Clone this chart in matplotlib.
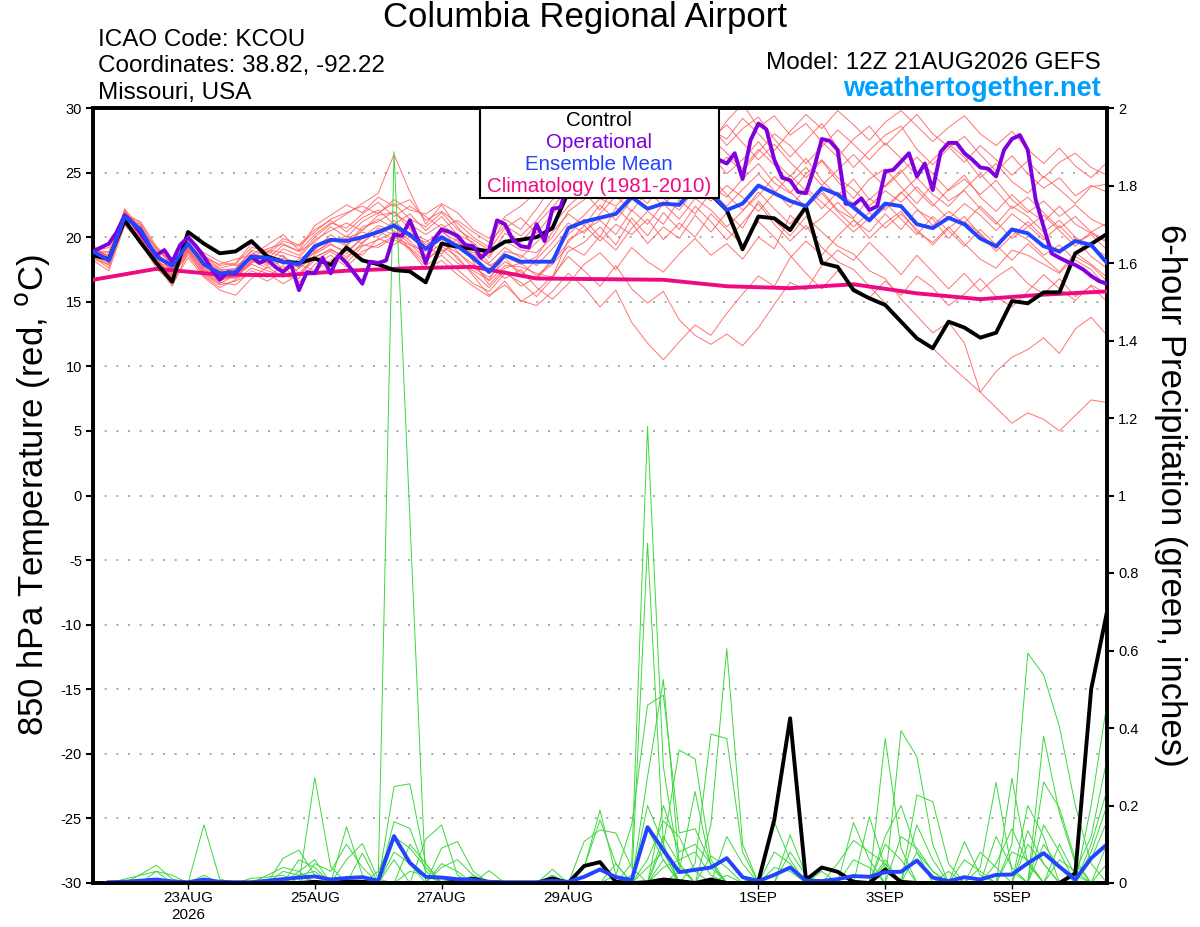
import numpy as np
import matplotlib
matplotlib.use("Agg")
import matplotlib.pyplot as plt
from matplotlib.patches import Rectangle

plt.rcParams['font.family'] = ['Liberation Sans', 'DejaVu Sans']
plt.rcParams['axes.unicode_minus'] = False

# time axis: days since 12Z 21AUG2026, 6-hourly ensemble, 3-hourly operational
tick_days = [1.5, 3.5, 5.5, 7.5, 10.5, 12.5, 14.5]
tick_labels = ['23AUG\n2026', '25AUG', '27AUG', '29AUG', '1SEP', '3SEP', '5SEP']

control_t = [
    18.6, 18.3, 21.3, 19.6, 18.0, 16.55, 20.4, 19.5, 18.75, 18.9,
    19.7, 18.5, 18.1, 18.0, 18.35, 17.85, 19.2, 18.2, 17.9, 17.45,
    17.35, 16.5, 19.5, 19.26, 19.1, 18.9, 19.65, 19.8, 20.0, 20.7,
    23.5, 23.8, 24.3, 24.0, 24.6, 25.2, 24.5, 24.8, 24.0, 23.3,
    22.1, 19.06, 21.6, 21.46, 20.55, 22.36, 18.0, 17.7, 15.9, 15.27,
    14.75, 13.46, 12.17, 11.4, 13.46, 13.0, 12.22, 12.6, 15.06, 14.88,
    15.73, 15.73, 18.75, 19.47, 20.25]

mean_t = [
    18.9, 18.2, 21.6, 20.6, 18.5, 17.8, 19.5, 17.9, 17.2, 17.3,
    18.5, 18.4, 18.1, 17.9, 19.3, 19.8, 19.7, 20.0, 20.4, 20.9,
    20.2, 19.1, 20.0, 19.3, 18.4, 17.3, 18.6, 18.1, 18.1, 18.1,
    20.7, 21.2, 21.5, 21.8, 23.1, 22.2, 22.6, 22.5, 23.9, 23.4,
    22.1, 22.6, 24.0, 23.4, 22.8, 22.4, 23.8, 23.3, 22.3, 21.3,
    22.6, 22.4, 21.0, 20.7, 21.5, 21.0, 19.9, 19.3, 20.6, 20.3,
    19.3, 18.9, 19.7, 19.4, 18.0]

oper_t = [
    18.9, 19.2, 19.5, 20.4, 21.7, 21.1, 20.3, 19.4, 18.6, 19.0,
    18.1, 19.4, 20.0, 19.3, 18.5, 17.5, 16.7, 17.3, 17.2, 17.9,
    18.5, 18.0, 18.3, 17.7, 17.3, 17.9, 15.9, 17.3, 17.2, 18.4,
    17.2, 18.6, 18.0, 17.2, 16.4, 18.1, 18.0, 18.2, 20.2, 20.1,
    21.3, 19.8, 18.0, 19.8, 20.6, 20.4, 20.1, 19.4, 19.3, 18.4,
    19.0, 21.3, 21.0, 19.8, 19.3, 19.2, 21.0, 19.7, 22.2, 22.3,
    24.2, 25.0, 25.5, 26.0, 25.4, 26.2, 26.8, 26.0, 25.5, 26.3,
    27.0, 26.5, 25.8, 26.4, 27.0, 26.6, 25.9, 26.3, 26.5, 26.0,
    25.7, 26.5, 24.5, 27.5, 28.8, 28.35, 26.0, 24.6, 24.4, 23.5,
    23.4, 25.3, 27.6, 27.45, 26.75, 22.6, 22.5, 23.0, 22.1, 22.4,
    25.1, 25.2, 25.85, 26.5, 24.7, 25.7, 23.65, 26.6, 27.3, 27.3,
    26.5, 26.0, 25.4, 25.3, 24.7, 26.75, 27.6, 27.9, 26.75, 22.9,
    20.8, 18.75, 18.4, 18.1, 17.85, 17.5, 17.0, 16.6, 16.4]

clim_days = list(range(17))
clim_t = [16.7, 17.55, 17.1, 17.05, 17.4, 17.6, 17.7, 16.8, 16.75, 16.7,
          16.2, 16.05, 16.35, 15.65, 15.2, 15.55, 15.8]

members_t = [
    [19.2, 18.0, 21.9, 20.2, 18.9, 17.5, 19.9, 18.6, 17.8, 18.0,
     19.5, 18.8, 19.9, 19.4, 20.6, 21.3, 20.4, 21.5, 22.1, 21.0,
     21.8, 20.5, 21.6, 20.2, 19.6, 18.4, 20.3, 19.6, 21.0, 22.3,
     23.8, 24.9, 23.6, 25.7, 26.8, 25.4, 27.2, 26.0, 27.9, 28.6,
     27.1, 28.4, 29.3, 27.6, 26.2, 27.5, 28.8, 26.9, 25.4, 26.7,
     27.9, 28.6, 26.8, 25.6, 26.9, 27.8, 26.4, 25.1, 26.3, 24.9,
     23.8, 24.6, 23.2, 24.0, 23.5],
    [18.5, 17.6, 21.2, 20.8, 17.9, 16.2, 18.8, 17.0, 16.1, 16.7,
     17.6, 17.2, 16.4, 17.1, 18.2, 18.9, 18.0, 19.3, 19.8, 20.4,
     19.1, 17.8, 18.6, 17.5, 16.4, 15.8, 17.2, 16.5, 15.4, 16.8,
     18.9, 19.6, 20.8, 19.4, 21.5, 20.1, 21.9, 20.6, 22.4, 21.2,
     19.8, 21.1, 22.6, 21.0, 19.7, 20.9, 19.2, 18.1, 17.5, 16.2,
     14.9, 13.6, 12.1, 11.4, 10.2, 9.1, 8.0, 6.8, 5.6, 6.4,
     5.9, 5.0, 6.2, 7.4, 7.2],
    [18.8, 18.4, 21.5, 21.0, 18.2, 17.1, 19.2, 17.5, 16.8, 17.0,
     18.0, 18.7, 17.5, 18.3, 19.0, 20.2, 19.4, 20.8, 21.2, 22.0,
     20.6, 19.4, 20.1, 18.9, 17.6, 16.9, 18.1, 17.3, 16.7, 18.4,
     20.2, 21.4, 20.0, 22.3, 21.1, 19.5, 20.8, 19.9, 21.7, 20.4,
     21.9, 20.7, 22.8, 21.3, 20.1, 21.6, 20.4, 19.3, 18.7, 17.4,
     16.8, 15.2, 13.9, 12.6, 13.4, 11.8, 8.0, 9.6, 10.7, 11.3,
     12.2, 11.0, 12.9, 13.8, 12.4],
    [19.0, 18.6, 22.0, 20.4, 18.7, 17.3, 19.6, 18.2, 17.4, 17.6,
     18.9, 17.9, 18.6, 17.2, 18.4, 19.1, 18.3, 19.6, 20.5, 19.8,
     19.2, 18.1, 19.3, 18.5, 17.0, 15.5, 16.3, 15.1, 14.7, 15.8,
     17.2, 16.1, 14.6, 15.9, 13.4, 11.8, 10.5, 11.9, 13.2, 12.4,
     14.1, 15.6, 17.0, 16.2, 18.4, 19.7, 18.6, 20.1, 21.3, 20.4,
     21.8, 20.6, 22.1, 21.4, 19.9, 21.2, 20.3, 19.1, 20.5, 19.8,
     18.6, 19.4, 18.2, 17.5, 16.1],
    [18.3, 17.9, 21.3, 19.9, 18.0, 16.8, 18.9, 17.3, 16.5, 16.3,
     17.4, 16.9, 17.8, 16.5, 17.9, 18.6, 17.7, 18.9, 19.4, 20.1,
     19.0, 17.5, 18.2, 17.1, 16.2, 15.4, 16.6, 15.0, 15.8, 17.0,
     18.5, 17.4, 16.2, 17.8, 16.0, 14.9, 15.8, 13.6, 12.4, 11.7,
     12.5, 11.6, 13.0, 14.8, 16.5, 15.9, 17.8, 19.0, 18.2, 19.6,
     18.4, 17.1, 18.6, 17.3, 16.0, 17.2, 15.8, 16.9, 17.7, 16.4,
     15.6, 16.8, 15.4, 16.2, 15.0],
    [18.7, 18.9, 21.7, 21.2, 19.3, 18.0, 19.3, 18.4, 17.9, 18.3,
     18.6, 19.4, 20.2, 19.0, 20.9, 21.7, 22.5, 21.9, 23.1, 22.4,
     22.9, 21.3, 22.0, 21.1, 20.0, 19.2, 21.4, 20.6, 22.2, 24.0,
     25.6, 26.4, 27.8, 26.5, 28.4, 29.6, 28.2, 30.4, 29.1, 27.6,
     28.7, 27.3, 26.0, 27.2, 25.8, 24.6, 25.9, 24.3, 23.0, 24.5,
     25.3, 23.9, 22.6, 24.1, 22.8, 23.6, 22.2, 21.0, 22.4, 21.6,
     20.4, 21.3, 20.0, 19.2, 18.5],
    [19.4, 18.3, 22.2, 20.6, 18.4, 17.0, 19.0, 17.7, 16.9, 17.4,
     18.3, 18.0, 19.1, 18.6, 20.0, 21.0, 21.8, 22.6, 23.4, 26.4,
     23.5, 21.0, 22.5, 20.8, 19.4, 18.0, 19.2, 18.4, 19.6, 20.9,
     22.4, 23.5, 22.1, 24.0, 25.3, 23.8, 24.9, 26.1, 25.0, 26.4,
     24.9, 26.0, 27.4, 25.9, 24.7, 26.1, 24.4, 23.2, 24.5, 22.9,
     24.0, 25.2, 23.6, 22.4, 23.7, 24.8, 23.1, 22.0, 23.3, 22.1,
     21.2, 22.4, 21.0, 20.3, 19.6],
    [18.6, 17.8, 21.0, 20.0, 18.1, 17.6, 19.7, 17.6, 16.7, 16.9,
     17.9, 17.4, 17.0, 16.8, 18.7, 19.4, 18.9, 19.9, 20.3, 20.8,
     19.7, 18.6, 19.5, 18.8, 17.9, 16.6, 17.8, 17.7, 17.2, 16.9,
     19.8, 20.5, 21.3, 20.2, 22.1, 21.0, 22.6, 21.4, 23.0, 22.1,
     20.8, 22.0, 23.5, 22.2, 21.0, 22.4, 23.6, 22.1, 21.4, 19.9,
     21.1, 22.0, 20.4, 19.6, 20.8, 19.5, 18.3, 17.6, 19.0, 18.6,
     17.9, 17.2, 18.5, 17.8, 16.6],
    [19.1, 18.5, 21.8, 20.9, 19.0, 18.2, 20.0, 18.5, 17.6, 17.9,
     19.2, 19.0, 18.8, 18.4, 19.8, 20.5, 21.1, 20.5, 21.7, 21.9,
     21.0, 20.2, 21.0, 20.0, 19.1, 18.6, 19.7, 19.0, 18.8, 20.0,
     22.0, 22.9, 24.3, 23.1, 25.0, 24.1, 23.6, 25.2, 26.3, 25.0,
     26.2, 25.1, 26.6, 28.0, 27.1, 25.7, 27.0, 28.3, 27.2, 26.0,
     27.3, 26.1, 24.8, 26.0, 27.2, 26.2, 24.6, 25.7, 24.3, 23.4,
     24.7, 23.7, 22.6, 23.9, 24.1],
    [18.2, 17.4, 20.9, 19.6, 17.6, 16.4, 18.4, 16.9, 15.9, 15.5,
     16.8, 17.7, 16.9, 17.6, 18.5, 19.0, 18.5, 19.4, 19.2, 20.0,
     19.4, 18.9, 19.8, 18.3, 17.2, 16.1, 17.4, 16.2, 16.9, 17.9,
     19.3, 18.6, 20.1, 19.0, 20.7, 22.0, 21.0, 22.9, 21.8, 23.5,
     22.4, 23.7, 24.9, 23.6, 22.3, 23.8, 22.7, 21.6, 20.4, 21.5,
     22.7, 21.4, 20.2, 21.6, 20.5, 19.3, 20.6, 19.4, 18.2, 19.5,
     18.4, 17.3, 18.8, 17.9, 16.9],
    [18.9, 18.1, 21.4, 20.7, 18.6, 17.4, 19.4, 18.0, 17.1, 17.0,
     18.7, 18.3, 19.4, 18.9, 19.6, 20.8, 20.0, 21.2, 21.9, 22.6,
     21.4, 20.8, 21.9, 20.6, 19.8, 19.0, 20.7, 21.5, 20.3, 21.8,
     23.2, 24.6, 25.9, 24.4, 26.2, 27.5, 26.0, 27.8, 28.9, 27.3,
     29.0, 30.3, 28.5, 29.4, 27.9, 28.8, 27.4, 26.2, 27.6, 28.6,
     27.1, 28.3, 29.5, 28.0, 27.0, 25.8, 27.1, 26.0, 24.8, 25.9,
     24.6, 25.8, 26.5, 25.4, 24.8],
    [18.4, 18.7, 21.1, 20.3, 18.3, 17.7, 19.1, 17.4, 16.6, 17.2,
     18.1, 18.5, 17.9, 18.1, 18.8, 19.7, 19.9, 20.4, 20.0, 21.3,
     20.1, 19.6, 20.4, 19.7, 18.2, 17.5, 18.9, 18.6, 17.8, 19.1,
     20.6, 21.7, 23.0, 22.4, 23.7, 22.6, 24.3, 23.0, 24.8, 23.9,
     23.1, 24.5, 25.7, 24.2, 23.4, 24.9, 26.0, 24.6, 23.7, 22.4,
     23.6, 22.7, 23.9, 22.6, 21.4, 22.6, 21.7, 20.5, 21.8, 20.9,
     19.8, 20.9, 19.6, 20.2, 19.0],
    [19.3, 18.2, 21.6, 20.1, 18.8, 17.2, 18.6, 17.1, 16.3, 16.6,
     17.2, 16.6, 17.3, 17.9, 17.4, 18.2, 19.0, 18.6, 19.9, 19.4,
     20.3, 19.8, 18.9, 19.5, 18.6, 17.9, 16.8, 17.5, 16.1, 15.2,
     16.4, 17.9, 18.8, 17.5, 19.2, 18.1, 17.3, 18.7, 19.9, 18.6,
     19.5, 18.3, 20.0, 19.1, 21.7, 20.6, 21.5, 22.7, 21.5, 23.0,
     22.1, 23.4, 24.6, 23.3, 22.4, 23.7, 24.9, 23.6, 22.2, 23.1,
     21.9, 20.7, 21.6, 20.4, 21.1],
    [18.9, 19.2, 21.9, 21.1, 19.1, 17.9, 19.8, 18.8, 18.1, 17.8,
     18.4, 19.1, 19.5, 18.9, 20.2, 21.1, 20.7, 21.8, 22.7, 21.6,
     22.4, 21.6, 20.7, 21.3, 20.4, 19.6, 20.9, 20.1, 21.3, 22.9,
     24.5, 25.8, 24.7, 26.0, 25.1, 26.8, 28.1, 27.0, 29.4, 28.3,
     27.6, 29.2, 28.0, 26.7, 28.2, 29.5, 28.4, 29.8, 28.7, 27.5,
     28.9, 29.8, 28.6, 27.4, 28.5, 29.4, 28.0, 27.1, 28.2, 26.8,
     25.7, 26.9, 25.5, 24.6, 25.8],
    [18.6, 18.0, 22.1, 20.5, 18.0, 17.0, 19.5, 17.8, 17.0, 16.8,
     18.2, 17.6, 18.2, 17.7, 19.1, 19.9, 19.3, 20.6, 21.4, 20.7,
     20.0, 19.1, 20.6, 19.2, 18.8, 17.8, 18.4, 17.0, 18.3, 19.6,
     21.1, 20.3, 21.8, 23.2, 22.0, 23.6, 22.4, 24.0, 23.1, 24.6,
     23.3, 22.1, 23.2, 24.7, 23.5, 22.3, 23.4, 22.0, 20.8, 21.9,
     20.7, 21.8, 20.6, 19.4, 20.7, 21.6, 20.2, 18.9, 20.1, 21.2,
     20.0, 18.7, 19.9, 18.5, 17.6],
    [18.8, 18.3, 21.3, 20.0, 18.5, 17.5, 19.0, 17.2, 16.4, 17.1,
     18.4, 17.8, 18.4, 18.0, 19.3, 19.6, 20.1, 19.5, 20.7, 20.2,
     20.8, 19.2, 18.7, 19.9, 18.1, 16.3, 17.6, 18.0, 17.0, 18.1,
     19.6, 20.9, 19.7, 21.0, 20.2, 21.4, 19.8, 21.1, 20.0, 21.8,
     20.6, 19.4, 21.2, 20.0, 18.6, 17.2, 16.0, 17.4, 16.1, 15.3,
     16.6, 15.5, 17.0, 16.1, 14.7, 15.6, 16.8, 15.4, 14.6, 15.8,
     17.1, 16.0, 15.1, 16.3, 15.6],
    [19.0, 18.8, 21.5, 20.5, 19.2, 17.8, 19.9, 18.3, 17.5, 17.5,
     19.0, 18.6, 19.7, 19.3, 20.4, 21.4, 21.9, 22.4, 21.8, 22.9,
     22.1, 21.8, 22.6, 21.9, 20.6, 19.9, 21.6, 22.4, 23.5, 24.8,
     26.3, 27.5, 28.9, 29.7, 28.1, 27.0, 28.6, 27.4, 26.3, 27.7,
     26.5, 25.3, 26.8, 25.6, 24.2, 25.4, 24.0, 25.2, 26.4, 25.1,
     23.9, 25.0, 26.2, 24.9, 23.6, 24.5, 23.3, 24.4, 22.9, 21.9,
     22.8, 21.6, 22.5, 21.4, 20.8],
    [18.5, 18.4, 21.0, 19.8, 18.3, 16.9, 19.2, 17.9, 17.3, 17.1,
     18.0, 18.9, 18.5, 17.6, 18.9, 19.5, 18.7, 20.0, 20.9, 20.5,
     19.5, 18.3, 19.1, 18.0, 17.4, 16.7, 18.5, 17.9, 18.5, 20.4,
     21.8, 20.9, 22.5, 21.3, 22.9, 24.2, 23.0, 22.1, 23.7, 22.8,
     24.0, 23.1, 22.0, 23.4, 24.8, 23.6, 22.2, 23.5, 22.6, 21.2,
     22.3, 23.5, 22.2, 20.9, 22.0, 21.1, 22.4, 21.2, 19.9, 20.8,
     21.7, 20.5, 19.3, 20.4, 19.7],
]

# 6-hour precipitation (inches), steps 1..64
control_p = [
    0, 0, 0.003, 0.005, 0.002, 0, 0, 0, 0, 0,
    0, 0, 0, 0.003, 0, 0.004, 0.003, 0, 0, 0,
    0, 0, 0.004, 0.011, 0.002, 0, 0, 0, 0.012, 0,
    0.044, 0.054, 0.003, 0, 0.002, 0.009, 0.005, 0, 0.009, 0,
    0, 0.005, 0.163, 0.425, 0.008, 0.04, 0.029, 0.003, 0, 0.035,
    0.003, 0, 0, 0, 0, 0, 0, 0, 0, 0,
    0, 0.025, 0.5, 0.7]

mean_p = [
    0.002, 0.003, 0.006, 0.009, 0.004, 0.002, 0.009, 0.003, 0.002, 0.002,
    0.006, 0.01, 0.014, 0.017, 0.009, 0.013, 0.015, 0.006, 0.121, 0.052,
    0.016, 0.014, 0.01, 0.008, 0.003, 0.002, 0.002, 0.002, 0.006, 0.003,
    0.016, 0.035, 0.015, 0.008, 0.144, 0.085, 0.028, 0.034, 0.04, 0.064,
    0.015, 0.005, 0.021, 0.04, 0.006, 0.005, 0.01, 0.018, 0.016, 0.028,
    0.029, 0.058, 0.014, 0.005, 0.015, 0.009, 0.021, 0.022, 0.051, 0.077,
    0.042, 0.009, 0.064, 0.1]

# member precipitation: (step, inches) pairs, all other steps dry
members_p = [
    {19: 1.887, 20: 0.94, 36: 0.12, 37: 0.05, 50: 0.06, 59: 0.1, 60: 0.05},
    {13: 0.02, 14: 0.03, 22: 0.05, 23: 0.03, 34: 0.05, 35: 1.178, 36: 0.30,
     37: 0.04, 56: 0.04, 57: 0.26, 58: 0.03, 63: 0.06, 64: 0.16},
    {16: 0.145, 17: 0.02, 35: 0.877, 36: 0.10, 40: 0.02, 52: 0.08, 53: 0.03,
     60: 0.379, 61: 0.18, 62: 0.05, 64: 0.1},
    {19: 0.249, 20: 0.256, 21: 0.05, 33: 0.02, 34: 0.15, 35: 0.459, 36: 0.485,
     37: 0.129, 38: 0.14, 39: 0.05, 49: 0.171, 50: 0.04, 58: 0.1, 59: 0.593,
     60: 0.537, 61: 0.403, 62: 0.2, 63: 0.05},
    {12: 0.064, 13: 0.085, 14: 0.02, 31: 0.04, 32: 0.188, 33: 0.02, 35: 0.274,
     36: 0.525, 37: 0.05, 50: 0.373, 51: 0.09, 63: 0.2, 64: 0.464},
    {14: 0.272, 15: 0.042, 21: 0.113, 22: 0.15, 23: 0.02, 36: 0.1, 37: 0.343,
     38: 0.32, 39: 0.06, 51: 0.393, 52: 0.326, 53: 0.1, 58: 0.27, 59: 0.05},
    {7: 0.15, 8: 0.01, 19: 0.158, 20: 0.141, 21: 0.03, 39: 0.15, 40: 0.605,
     41: 0.1, 52: 0.227, 53: 0.21, 54: 0.05, 60: 0.261, 61: 0.193, 62: 0.06},
    {16: 0.06, 17: 0.102, 18: 0.01, 38: 0.05, 39: 0.384, 40: 0.373, 41: 0.08,
     44: 0.124, 45: 0.02, 55: 0.107, 56: 0.02, 63: 0.1, 64: 0.24},
    {3: 0.022, 4: 0.046, 5: 0.01, 22: 0.09, 23: 0.107, 24: 0.03, 37: 0.03,
     38: 0.236, 39: 0.04, 48: 0.156, 49: 0.06, 57: 0.12, 58: 0.04},
    {13: 0.06, 14: 0.04, 17: 0.077, 31: 0.107, 32: 0.137, 33: 0.129, 34: 0.04,
     43: 0.158, 44: 0.06, 59: 0.135, 60: 0.05},
    {25: 0.032, 29: 0.035, 31: 0.04, 32: 0.163, 33: 0.05, 36: 0.06, 43: 0.08,
     44: 0.05, 47: 0.05, 48: 0.11, 49: 0.08, 50: 0.05, 60: 0.1, 61: 0.04},
    {19: 0.08, 20: 0.05, 29: 0.02, 35: 0.06, 36: 0.16, 37: 0.12, 38: 0.03,
     46: 0.03, 50: 0.12, 51: 0.2, 52: 0.08, 62: 0.03, 63: 0.12, 64: 0.32},
    {2: 0.01, 3: 0.02, 4: 0.03, 11: 0.02, 12: 0.04, 13: 0.03, 20: 0.1, 21: 0.05,
     35: 0.04, 36: 0.08, 40: 0.12, 41: 0.05, 52: 0.15, 53: 0.06, 57: 0.05,
     58: 0.14, 59: 0.05},
    {10: 0.012, 11: 0.015, 12: 0.02, 24: 0.02, 34: 0.02, 35: 0.14, 36: 0.06,
     39: 0.07, 40: 0.04, 44: 0.08, 45: 0.02, 55: 0.06, 56: 0.03, 61: 0.1, 62: 0.02},
    {18: 0.03, 19: 0.12, 20: 0.09, 21: 0.04, 36: 0.2, 37: 0.08, 38: 0.1,
     39: 0.05, 50: 0.1, 51: 0.06, 59: 0.2, 60: 0.12, 64: 0.05},
    {4: 0.03, 5: 0.02, 14: 0.05, 15: 0.03, 16: 0.1, 17: 0.04, 33: 0.05,
     35: 0.2, 36: 0.1, 51: 0.12, 52: 0.09, 53: 0.03, 60: 0.15, 61: 0.08},
    {7: 0.02, 13: 0.03, 14: 0.06, 20: 0.03, 21: 0.02, 43: 0.04, 44: 0.03,
     48: 0.06, 49: 0.04, 58: 0.08, 59: 0.06, 63: 0.08, 64: 0.2},
    {12: 0.03, 13: 0.02, 19: 0.06, 22: 0.04, 23: 0.06, 24: 0.02, 36: 0.04,
     37: 0.06, 38: 0.08, 39: 0.02, 50: 0.05, 54: 0.03, 56: 0.08, 57: 0.04,
     61: 0.06, 62: 0.03},
]

t_ens = np.arange(len(control_t)) * 0.25
t_op = np.arange(len(oper_t)) * 0.125
t_pr = np.arange(1, len(control_p) + 1) * 0.25

RED = '#ff5a5a'
GREEN = '#3ad83a'
PURPLE = '#7f00dd'
BLUE = '#2244ff'
MAGENTA = '#ee0a82'

fig = plt.figure(figsize=(12, 9.27), dpi=100)
ax = fig.add_axes([93/1200, 44/927, 1014/1200, 775/927])
ax2 = ax.twinx()
ax3 = ax.twinx()

for m in members_t:
    ax.plot(t_ens, m, color=RED, lw=0.7, alpha=0.85)

for m in members_p:
    vals = np.zeros(len(t_pr))
    for k, v in m.items():
        vals[k - 1] = v
    ax2.plot(t_pr, vals, color=GREEN, lw=0.7)
ax2.plot(t_pr, control_p, color='black', lw=2.8)
ax2.plot(t_pr, mean_p, color=BLUE, lw=2.8)

ax3.plot(clim_days, clim_t, color=MAGENTA, lw=2.8)
ax3.plot(t_ens, control_t, color='black', lw=2.8)
ax3.plot(t_op, oper_t, color=PURPLE, lw=2.8)
ax3.plot(t_ens, mean_t, color=BLUE, lw=2.8)

ax.set_xlim(0, 16)
ax.set_ylim(-30, 30)
ax3.set_ylim(-30, 30)
ax2.set_ylim(0, 2)

temp_ticks = list(range(-30, 31, 5))
ax.set_yticks(temp_ticks)
ax.set_yticklabels([str(v) for v in temp_ticks])
for v in temp_ticks[1:-1]:
    ax.axhline(v, color='#a8a8a8', lw=1.4, ls=(0, (1, 5)), zorder=0.5)

pr_ticks = [0, 0.2, 0.4, 0.6, 0.8, 1, 1.2, 1.4, 1.6, 1.8, 2]
ax2.set_yticks(pr_ticks)
ax2.set_yticklabels(['0', '0.2', '0.4', '0.6', '0.8', '1', '1.2', '1.4',
                     '1.6', '1.8', '2'])
ax3.axis('off')

ax.set_xticks(tick_days)
ax.set_xticklabels(tick_labels)

for a in (ax, ax2):
    a.tick_params(direction='out', length=5, width=1.5, labelsize=10.5, pad=3)
    for s in a.spines.values():
        s.set_linewidth(2.6)
ax.tick_params(axis='x', length=4, width=1, labelsize=11, pad=2)

fig.text(585/1200, 1 - 18/927, 'Columbia Regional Airport', ha='center',
         va='center', fontsize=25)
fig.text(98/1200, 1 - 40/927, 'ICAO Code: KCOU', ha='left', va='center',
         fontsize=17.5)
fig.text(98/1200, 1 - 66/927, 'Coordinates: 38.82, -92.22', ha='left',
         va='center', fontsize=17.5)
fig.text(98/1200, 1 - 93/927, 'Missouri, USA', ha='left', va='center',
         fontsize=17.5)
fig.text(1101/1200, 1 - 63/927, 'Model: 12Z 21AUG2026 GEFS', ha='right',
         va='center', fontsize=17.5)
fig.text(1101/1200, 1 - 89/927, 'weathertogether.net', ha='right', va='center',
         fontsize=19.5, fontweight='bold', color='#00a0ff')

fig.text(33/1200, 1 - 495/927, r'850 hPa Temperature (red, $^{\mathrm{o}}$C)',
         rotation=90, ha='center', va='center', fontsize=25)
fig.text(1170/1200, 1 - 495/927, '6-hour Precipitation (green, inches)',
         rotation=270, ha='center', va='center', fontsize=25)

# legend box
fig.patches.append(Rectangle((480/1200, 1 - 198/927), 239/1200, 90/927,
                             transform=fig.transFigure, facecolor='white',
                             edgecolor='black', lw=1.5, zorder=2))
leg = [('Control', 'black', 121), ('Operational', PURPLE, 142),
       ('Ensemble Mean', BLUE, 164), ('Climatology (1981-2010)', MAGENTA, 186)]
for txt, col, yy in leg:
    fig.text(599/1200, 1 - yy/927, txt, color=col, ha='center', va='center',
             fontsize=14.8, zorder=3)

fig.savefig('out.png', dpi=100)
